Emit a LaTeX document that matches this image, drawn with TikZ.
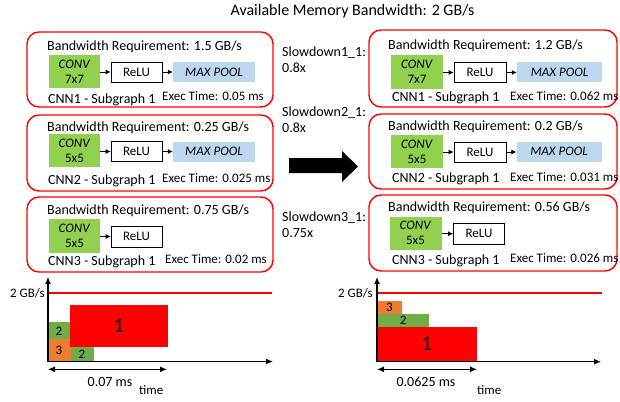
\documentclass[tikz,border=0pt]{standalone}
\usepackage{fontspec}
\setmainfont{Carlito}
\usetikzlibrary{arrows.meta}
\definecolor{convgreen}{HTML}{92D050}
\definecolor{poolblue}{HTML}{BDD7EE}
\definecolor{bargreen}{HTML}{70AD47}
\definecolor{barorange}{HTML}{ED7D31}
\definecolor{limred}{HTML}{FF0000}
\begin{document}
\begin{tikzpicture}[x=1pt,y=-1pt,
  subbox/.style={draw=red, line width=1.4pt, rounded corners=12pt, inner sep=0pt},
  txt/.style={anchor=base west, inner sep=0pt, font=\fontsize{14}{16}\selectfont},
  smalltxt/.style={anchor=base west, inner sep=0pt, font=\fontsize{13}{15}\selectfont},
  convbox/.style={fill=convgreen, minimum width=51pt, minimum height=33pt, inner sep=0pt, align=center, font=\fontsize{13}{15}\selectfont},
  relubox/.style={draw=black, line width=0.8pt, fill=white, minimum width=51pt, minimum height=20pt, inner sep=0pt, font=\fontsize{13}{15}\selectfont},
  poolbox/.style={fill=poolblue, minimum width=82pt, minimum height=20pt, inner sep=0pt, font=\fontsize{13}{15}\itshape\selectfont},
  flow/.style={-{Latex[length=5pt,width=5pt]}, line width=0.8pt},
  bar/.style={inner sep=0pt, font=\fontsize{13}{15}\selectfont},
  bigbar/.style={inner sep=0pt, font=\fontsize{21}{24}\selectfont},
  axis/.style={-{Latex[length=7pt,width=6pt]}, line width=1.2pt},
  span/.style={{Latex[length=7pt,width=6pt]}-{Latex[length=7pt,width=6pt]}, line width=1.2pt}
]
\useasboundingbox (0,0) rectangle (620,401);

% title
\node[anchor=base, inner sep=0pt, font=\fontsize{16}{18}\selectfont] (title) at (352.5,16) {Available Memory Bandwidth: 2 GB/s};

% ---------------- left boxes ----------------
\node[subbox, minimum width=246pt, minimum height=75pt] (L1) at (150,69.5) {};
\node[txt] (L1bw) at (47,51) {Bandwidth Requirement: 1.5 GB/s};
\node[convbox] (L1c) at (74.5,71.5) {\textit{CONV}\\7x7};
\node[relubox] (L1r) at (136.5,72) {ReLU};
\node[poolbox] (L1p) at (214,72) {MAX POOL};
\draw[flow] (L1c.east |- L1r.west) -- (L1r.west);
\draw[flow] (L1r.east) -- (L1p.west);
\node[txt] (L1n) at (48,103) {CNN1 - Subgraph 1};
\node[smalltxt] (L1t) at (162,101) {Exec Time: 0.05 ms};

\node[subbox, minimum width=246pt, minimum height=76pt] (L2) at (150,153) {};
\node[txt] (L2bw) at (47,131) {Bandwidth Requirement: 0.25 GB/s};
\node[convbox] (L2c) at (74.5,150.5) {\textit{CONV}\\5x5};
\node[relubox] (L2r) at (136.5,151.5) {ReLU};
\node[poolbox] (L2p) at (214,151.5) {MAX POOL};
\draw[flow] (L2c.east |- L2r.west) -- (L2r.west);
\draw[flow] (L2r.east) -- (L2p.west);
\node[txt] (L2n) at (48,184) {CNN2 - Subgraph 1};
\node[smalltxt] (L2t) at (162,182.5) {Exec Time: 0.025 ms};

\node[subbox, minimum width=246pt, minimum height=75pt] (L3) at (150,234.5) {};
\node[txt] (L3bw) at (47,214) {Bandwidth Requirement: 0.75 GB/s};
\node[convbox, minimum height=34pt] (L3c) at (74.5,235.5) {\textit{CONV}\\5x5};
\node[relubox, minimum height=21pt] (L3r) at (136.5,236.5) {ReLU};
\draw[flow] (L3c.east |- L3r.west) -- (L3r.west);
\node[txt] (L3n) at (48,265) {CNN3 - Subgraph 1};
\node[smalltxt] (L3t) at (165,263.5) {Exec Time: 0.02 ms};

% ---------------- slowdowns ----------------
\node[txt] (s1) at (282,57) {Slowdown1\_1:};
\node[txt] (s1v) at (282,72.5) {0.8x};
\node[txt] (s2) at (282,116) {Slowdown2\_1:};
\node[txt] (s2v) at (282,132.5) {0.8x};
\node[txt] (s3) at (282,221.7) {Slowdown3\_1:};
\node[txt] (s3v) at (282,237.7) {0.75x};

% big arrow
\fill[black] (289,158) -- (342,158) -- (342,151) -- (358,166.5) -- (342,182) -- (342,173) -- (289,173) -- cycle;

% ---------------- right boxes ----------------
\node[subbox, minimum width=248pt, minimum height=77pt] (R1) at (493,68.5) {};
\node[txt] (R1bw) at (388,49.5) {Bandwidth Requirement: 1.2 GB/s};
\node[convbox, minimum width=52pt, minimum height=34pt] (R1c) at (417,72) {\textit{CONV}\\7x7};
\node[relubox, minimum width=52pt] (R1r) at (480,72.5) {ReLU};
\node[poolbox, minimum width=85pt] (R1p) at (559.5,72.3) {MAX POOL};
\draw[flow] (R1c.east |- R1r.west) -- (R1r.west);
\draw[flow] (R1r.east) -- (R1p.west |- R1r.east);
\node[txt] (R1n) at (392,101.5) {CNN1 - Subgraph 1};
\node[smalltxt] (R1t) at (510,100) {Exec Time: 0.062 ms};

\node[subbox, minimum width=248pt, minimum height=75pt] (R2) at (493,151.5) {};
\node[txt] (R2bw) at (388,130.5) {Bandwidth Requirement: 0.2 GB/s};
\node[convbox, minimum width=52pt] (R2c) at (417,151.7) {\textit{CONV}\\5x5};
\node[relubox, minimum width=52pt] (R2r) at (480,152) {ReLU};
\node[poolbox, minimum width=85pt] (R2p) at (559,151.5) {MAX POOL};
\draw[flow] (R2c.east |- R2r.west) -- (R2r.west);
\draw[flow] (R2r.east) -- (R2p.west |- R2r.east);
\node[txt] (R2n) at (392,182.7) {CNN2 - Subgraph 1};
\node[smalltxt] (R2t) at (510,181.7) {Exec Time: 0.031 ms};

\node[subbox, minimum width=248pt, minimum height=76pt] (R3) at (493,233) {};
\node[txt] (R3bw) at (388,211.7) {Bandwidth Requirement: 0.56 GB/s};
\node[convbox, minimum width=52pt] (R3c) at (415.5,233.3) {\textit{CONV}\\5x5};
\node[relubox, minimum height=21pt] (R3r) at (479,233.7) {ReLU};
\draw[flow] (R3c.east |- R3r.west) -- (R3r.west);
\node[txt] (R3n) at (392,264) {CNN3 - Subgraph 1};
\node[smalltxt] (R3t) at (510,262.7) {Exec Time: 0.026 ms};

% ---------------- left chart ----------------
\coordinate (oL) at (48,361.5);
\coordinate (yL) at (48,277);
\coordinate (xL) at (273,361.5);
\node[bar, fill=bargreen, minimum width=23pt, minimum height=17pt] (gL1) at (59,330.8) {2};
\node[bar, fill=barorange, minimum width=23pt, minimum height=22pt] (orL) at (59,350.4) {3};
\node[bar, fill=bargreen, minimum width=23pt, minimum height=15.5pt] (gL2) at (82,353.8) {2};
\node[bigbar, fill=red, minimum width=97.5pt, minimum height=42.3pt] (rL) at (118.8,326.2) {1};
\fill[limred] (48,292.4) rectangle (272,293.6);
\draw[axis] (oL) -- (yL);
\draw[axis] (oL) -- (xL);
\node[smalltxt, anchor=base east] (gbL) at (45,297) {2 GB/s};
\coordinate (spLa) at (48,369.3);
\coordinate (spLb) at (167,369.3);
\draw[span] (spLa) -- (spLb);
\node[txt, anchor=base] (msL) at (110,386) {0.07 ms};
\node[smalltxt] (tL) at (139,394) {time};

% ---------------- right chart ----------------
\coordinate (oR) at (377,361.7);
\coordinate (yR) at (377,277);
\coordinate (xR) at (601,361.7);
\node[bar, fill=barorange, minimum width=24.7pt, minimum height=13.3pt] (orR) at (389.4,307.7) {3};
\node[bar, fill=bargreen, minimum width=52.3pt, minimum height=12.4pt] (gR) at (403.2,320.5) {2};
\node[bigbar, fill=red, minimum width=99.7pt, minimum height=35pt] (rR) at (426.8,344.2) {1};
\fill[limred] (377,292.4) rectangle (602,293.6);
\draw[axis] (oR) -- (yR);
\draw[axis] (oR) -- (xR);
\node[smalltxt, anchor=base east] (gbR) at (373,297.5) {2 GB/s};
\coordinate (spRa) at (377,369.3);
\coordinate (spRb) at (477,369.3);
\draw[span] (spRa) -- (spRb);
\node[txt, anchor=base] (msR) at (426,386) {0.0625 ms};
\node[smalltxt] (tR) at (477,394) {time};
\end{tikzpicture}
\end{document}
